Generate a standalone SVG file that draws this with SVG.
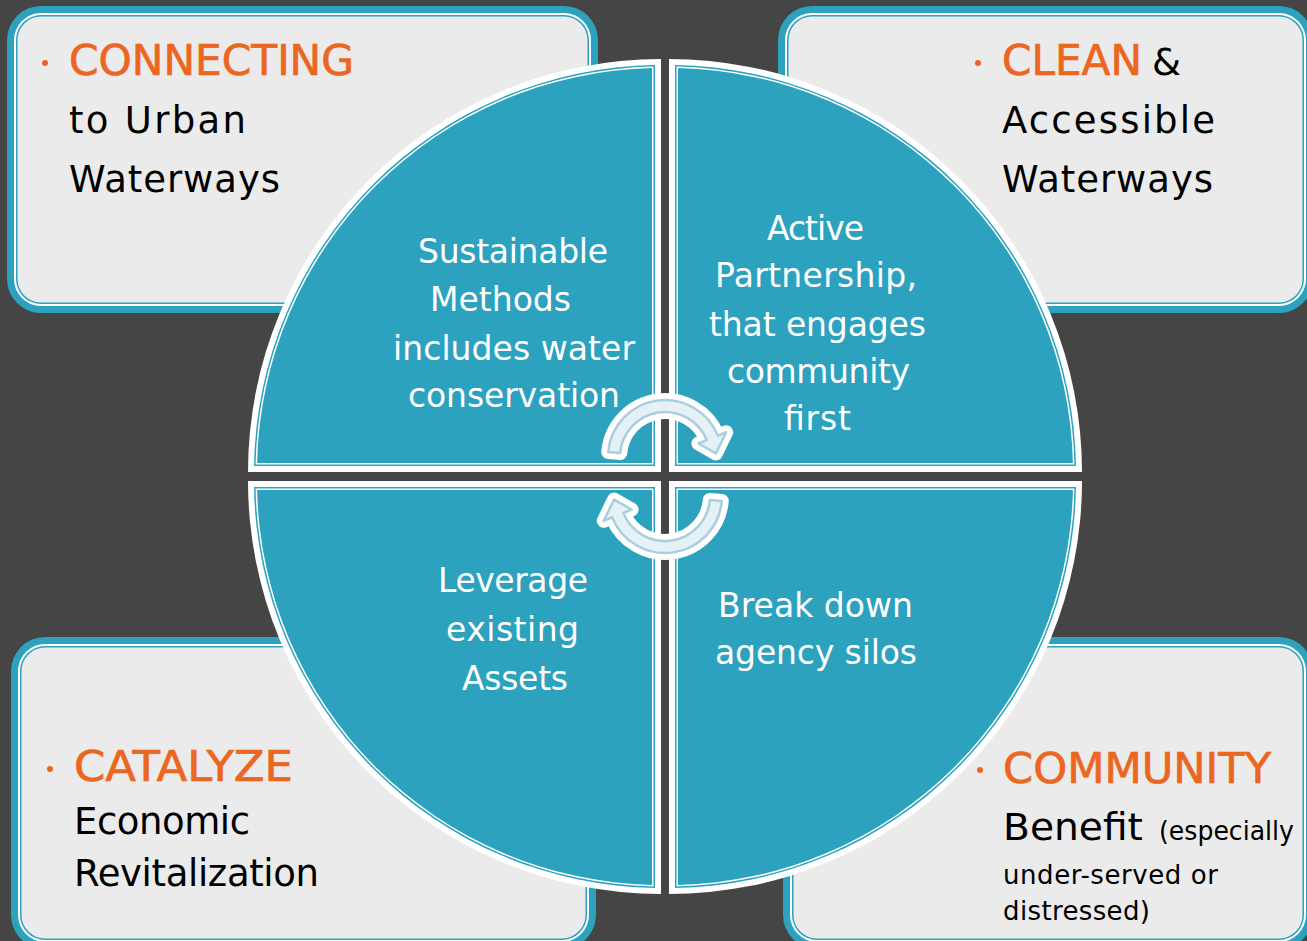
<svg xmlns="http://www.w3.org/2000/svg" xmlns:xlink="http://www.w3.org/1999/xlink" width="1307" height="941" viewBox="0 0 1307 941">
<style>
.bg{fill:#454545}
.t{fill:#2CA2BF}
.w{fill:#FFFFFF}
.g{fill:#EBEBEB}
.or{font-family:"DejaVu Sans",sans-serif;fill:#EB6620;stroke:#EB6620;stroke-width:0.7;font-size:42px}
.bk{font-family:"DejaVu Sans",sans-serif;fill:#000000;font-size:37px}
.sm{font-family:"DejaVu Sans",sans-serif;fill:#000000;font-size:26px}
.ct{font-family:"DejaVu Sans",sans-serif;fill:#FFFFFF;font-size:33px}
.dot{fill:#EB6620}
.arrOut{fill:none;stroke:#FFFFFF;stroke-width:14;stroke-linejoin:round}
.arrIn{fill:#E6F1F6;stroke:#A9CEDF;stroke-width:2.5;stroke-linejoin:round}
</style>
<defs>
<g id="quad">
<path class="w" d="M661,472 L661,59 A413,413 0 0 0 248,472 Z"/>
<path class="t" d="M655,466 L655,65.04 A407,407 0 0 0 254.04,466 Z"/>
<path class="w" d="M653.5,464.5 L653.5,66.57 A405.5,405.5 0 0 0 255.57,464.5 Z"/>
<path class="t" d="M652,463 L652,68.1 A404,404 0 0 0 257.1,463 Z"/>
</g>
<path id="arrow" d="M608.22,452.03 A57,57 0 0 1 717.85,435.65 L726.2,432.28 L715.88,453.44 L698.38,443.51 L706.72,440.14 A45,45 0 0 0 620.17,453.08 Z"/>
</defs>
<rect class="bg" x="0" y="0" width="1307" height="941"/>

<g id="box-connecting">
<rect class="t" x="7" y="6" width="591" height="307" rx="34"/>
<rect class="w" x="14" y="13" width="577" height="293" rx="27"/>
<rect class="t" x="16" y="15" width="573" height="289" rx="25"/>
<rect class="g" x="17.5" y="16.5" width="570" height="286" rx="23.5"/>
<circle class="dot" cx="45" cy="63" r="3"/>
<text class="or" x="69" y="75" textLength="285" lengthAdjust="spacingAndGlyphs">CONNECTING</text>
<text class="bk" x="69" y="133" textLength="177" lengthAdjust="spacing">to Urban</text>
<text class="bk" x="69" y="192" textLength="211" lengthAdjust="spacing">Waterways</text>
</g>

<g id="box-clean">
<rect class="t" x="778" y="6" width="535" height="307" rx="34"/>
<rect class="w" x="785" y="13" width="521" height="293" rx="27"/>
<rect class="t" x="787" y="15" width="517" height="289" rx="25"/>
<rect class="g" x="788.5" y="16.5" width="514" height="286" rx="23.5"/>
<circle class="dot" cx="978" cy="63" r="3"/>
<text class="or" x="1002" y="75" textLength="140" lengthAdjust="spacingAndGlyphs">CLEAN</text>
<text class="bk" x="1152" y="75" font-size="40" textLength="29" lengthAdjust="spacingAndGlyphs">&amp;</text>
<text class="bk" x="1002" y="133" textLength="213" lengthAdjust="spacing">Accessible</text>
<text class="bk" x="1002" y="192" textLength="211" lengthAdjust="spacing">Waterways</text>
</g>

<g id="box-catalyze">
<rect class="t" x="11" y="637" width="585" height="312" rx="34"/>
<rect class="w" x="18" y="644" width="571" height="298" rx="27"/>
<rect class="t" x="20" y="646" width="567" height="294" rx="25"/>
<rect class="g" x="21.5" y="647.5" width="564" height="291" rx="23.5"/>
<circle class="dot" cx="50" cy="769" r="3"/>
<text class="or" x="74" y="781" textLength="219" lengthAdjust="spacingAndGlyphs">CATALYZE</text>
<text class="bk" x="74" y="834" textLength="176" lengthAdjust="spacing">Economic</text>
<text class="bk" x="74" y="886" textLength="245" lengthAdjust="spacing">Revitalization</text>
</g>

<g id="box-community">
<rect class="t" x="783" y="637" width="530" height="312" rx="34"/>
<rect class="w" x="790" y="644" width="516" height="298" rx="27"/>
<rect class="t" x="792" y="646" width="512" height="294" rx="25"/>
<rect class="g" x="793.5" y="647.5" width="509" height="291" rx="23.5"/>
<circle class="dot" cx="980" cy="770" r="3"/>
<text class="or" x="1003" y="783" font-size="44" textLength="268" lengthAdjust="spacingAndGlyphs">COMMUNITY</text>
<text class="bk" x="1003" y="840" font-size="41" textLength="140" lengthAdjust="spacingAndGlyphs">Benefit</text>
<text class="sm" x="1159" y="840" textLength="135" lengthAdjust="spacingAndGlyphs">(especially</text>
<text class="sm" x="1003" y="884" textLength="215" lengthAdjust="spacing">under-served or</text>
<text class="sm" x="1003" y="920" textLength="147" lengthAdjust="spacing">distressed)</text>
</g>

<g id="quad-sustainable">
<use xlink:href="#quad" href="#quad"/>
<text class="ct" x="418" y="263" textLength="190" lengthAdjust="spacing">Sustainable</text>
<text class="ct" x="430" y="311" textLength="141" lengthAdjust="spacing">Methods</text>
<text class="ct" x="393" y="360" textLength="242" lengthAdjust="spacing">includes water</text>
<text class="ct" x="408" y="407" textLength="212" lengthAdjust="spacing">conservation</text>
</g>

<g id="quad-partnership">
<use xlink:href="#quad" href="#quad" transform="translate(1330,0) scale(-1,1)"/>
<text class="ct" x="767" y="240" textLength="97" lengthAdjust="spacing">Active</text>
<text class="ct" x="715" y="287" textLength="202" lengthAdjust="spacing">Partnership,</text>
<text class="ct" x="709" y="336" textLength="217" lengthAdjust="spacing">that engages</text>
<text class="ct" x="727" y="383" textLength="183" lengthAdjust="spacing">community</text>
<text class="ct" x="784" y="430" textLength="67" lengthAdjust="spacing">first</text>
</g>

<g id="quad-leverage">
<use xlink:href="#quad" href="#quad" transform="translate(0,953) scale(1,-1)"/>
<text class="ct" x="438" y="592" textLength="150" lengthAdjust="spacing">Leverage</text>
<text class="ct" x="446" y="641" textLength="133" lengthAdjust="spacing">existing</text>
<text class="ct" x="462" y="690" textLength="106" lengthAdjust="spacing">Assets</text>
</g>

<g id="quad-silos">
<use xlink:href="#quad" href="#quad" transform="translate(1330,953) scale(-1,-1)"/>
<text class="ct" x="718" y="617" textLength="195" lengthAdjust="spacing">Break down</text>
<text class="ct" x="715" y="664" textLength="202" lengthAdjust="spacing">agency silos</text>
</g>

<g id="connectors">
<use xlink:href="#arrow" href="#arrow" class="arrOut"/>
<use xlink:href="#arrow" href="#arrow" class="arrIn"/>
<g transform="rotate(180 665 476.5)">
<use xlink:href="#arrow" href="#arrow" class="arrOut"/>
<use xlink:href="#arrow" href="#arrow" class="arrIn"/>
</g>
</g>
</svg>
